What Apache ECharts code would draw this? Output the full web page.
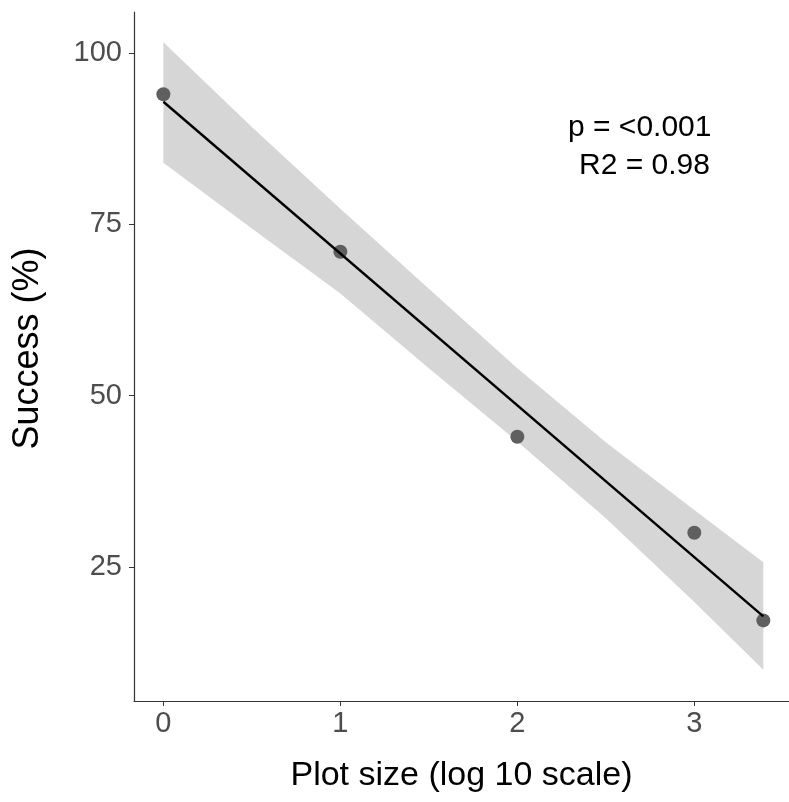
<!DOCTYPE html>
<html lang="en">
<head>
    <meta charset="UTF-8">
    <title>Success vs plot size</title>
    <script src="https://cdn.jsdelivr.net/npm/echarts@6/dist/echarts.min.js"></script>
    <style>
        html, body { margin: 0; padding: 0; background: #fff; }
        #chart { width: 789px; height: 802px; }
    </style>
</head>
<body>
    <div id="chart"></div>
    <script>
        // observed points (log10 plot size, success %)
        var plotSize = [0, 1, 2, 3, 3.39];
        var success = [94, 71, 44, 30, 17.2];

        // fitted line end points
        var fitX = [0, 3.39];
        var fitY = [92.9, 17.8];

        // confidence band
        var bandX = [0, 0.5, 1, 1.5, 2, 2.5, 3, 3.39];
        var bandUpper = [101.6, 89.2, 77.3, 65.6, 54.0, 43.2, 33.3, 25.7];
        var bandLower = [84.0, 74.4, 64.9, 54.0, 43.3, 32.1, 19.9, 10.0];

        var xTicks = [0, 1, 2, 3];
        var yTicks = [25, 50, 75, 100];

        var pts = plotSize.map(function (x, i) { return [x, success[i]]; });
        var fit = fitX.map(function (x, i) { return [x, fitY[i]]; });

        var chart = echarts.init(document.getElementById('chart'));
        var fontFam = '"Liberation Sans", Arial, sans-serif';

        var option = {
            animation: false,
            grid: { left: 134, right: 0, top: 12, bottom: 101, outerBoundsMode: 'none' },
            xAxis: {
                type: 'value',
                min: -0.166, max: 3.535,
                name: 'Plot size (log 10 scale)',
                nameLocation: 'middle',
                nameGap: 58,
                nameTextStyle: { color: '#000', fontSize: 34, fontFamily: fontFam },
                axisLine: { show: true, onZero: false, lineStyle: { color: '#333', width: 1.2 } },
                axisTick: { show: true, length: 5, customValues: xTicks, lineStyle: { color: '#333' } },
                axisLabel: { customValues: xTicks, margin: 8, color: '#4d4d4d', fontSize: 29, fontFamily: fontFam },
                splitLine: { show: false }
            },
            yAxis: {
                type: 'value',
                min: 5.44, max: 106,
                name: 'Success (%)',
                nameLocation: 'middle',
                nameGap: 88,
                nameTextStyle: { color: '#000', fontSize: 36, fontFamily: fontFam, padding: [0, 0, 0, 16] },
                axisLine: { show: true, onZero: false, lineStyle: { color: '#333', width: 1.2 } },
                axisTick: { show: true, length: 5, customValues: yTicks, lineStyle: { color: '#333' } },
                axisLabel: { customValues: yTicks, margin: 12, color: '#4d4d4d', fontSize: 29, fontFamily: fontFam },
                splitLine: { show: false }
            },
            series: [
                {
                    type: 'custom',
                    data: [0],
                    z: 1,
                    renderItem: function (params, api) {
                        var poly = [];
                        for (var i = 0; i < bandX.length; i++) poly.push(api.coord([bandX[i], bandUpper[i]]));
                        for (var j = bandX.length - 1; j >= 0; j--) poly.push(api.coord([bandX[j], bandLower[j]]));
                        return {
                            type: 'polygon',
                            shape: { points: poly },
                            style: { fill: '#d6d6d6' }
                        };
                    }
                },
                {
                    type: 'line',
                    data: fit,
                    z: 3,
                    symbol: 'none',
                    lineStyle: { color: '#000', width: 2.4 }
                },
                {
                    type: 'scatter',
                    data: pts,
                    z: 2,
                    symbolSize: 14,
                    itemStyle: { color: '#5f5f5f', opacity: 1 }
                }
            ],
            graphic: [
                { type: 'text', left: 568, top: 113, style: { text: 'p = <0.001', fill: '#000', font: '30px ' + fontFam } },
                { type: 'text', left: 579, top: 151, style: { text: 'R2 = 0.98', fill: '#000', font: '30px ' + fontFam } }
            ]
        };
        chart.setOption(option);
    </script>
</body>
</html>
